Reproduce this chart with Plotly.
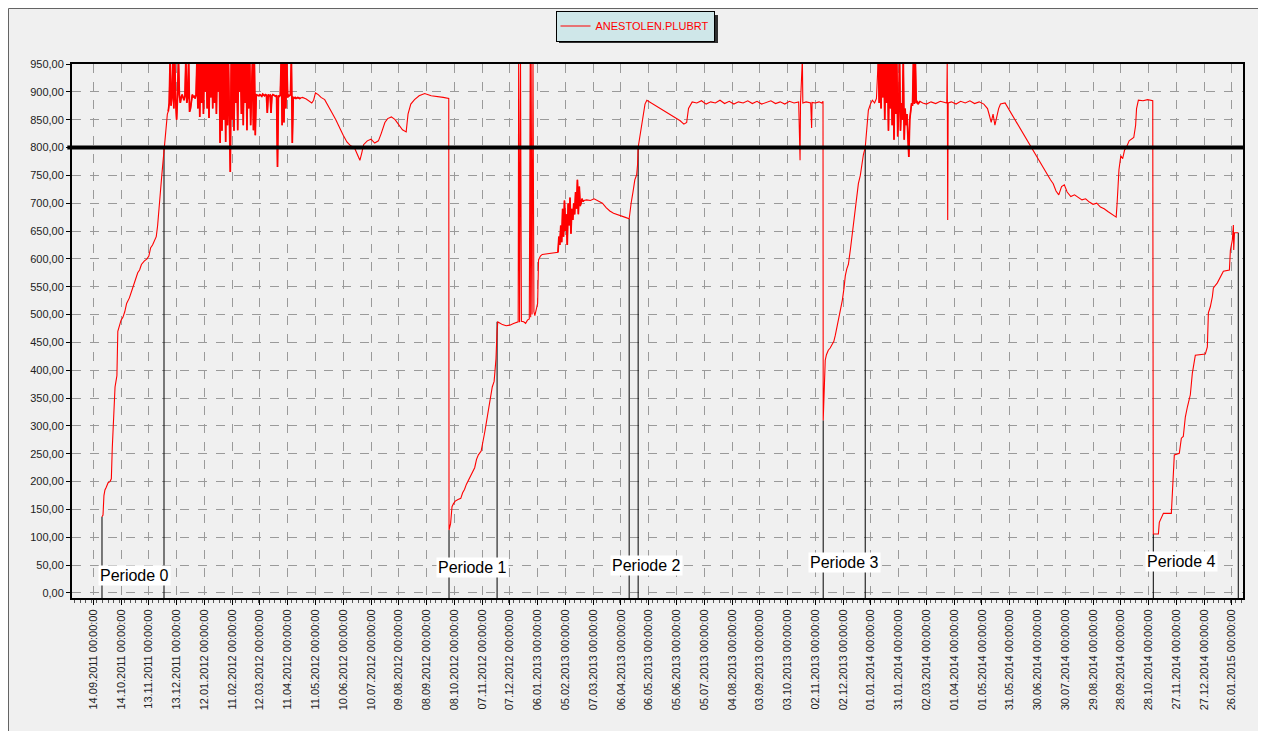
import pandas as pd
import plotly.graph_objects as go

# ---------------- data (days since 14.09.2011, values) ----------------
base_date = "2011-09-14"
series_name = "ANESTOLEN.PLUBRT"

rise0_days = [9.4, 10.5, 11.5, 12.6, 14, 16, 18, 19.5, 20.5, 21.3, 22.5, 23.5, 24.5, 25.5, 26.5, 28, 30, 32, 34, 36,
              39, 42, 45, 48, 50, 52, 55, 58, 60, 62, 64, 66, 68, 69.5, 71, 72.5, 74, 75.5, 76.4, 77.5, 78.6, 80]
rise0_vals = [137, 140, 175, 185, 190, 198, 200, 205, 260, 300, 340, 370, 380, 390, 470, 480, 490, 495, 505, 520,
              530, 545, 560, 575, 580, 590, 596, 600, 605, 620, 625, 632, 640, 660, 700, 720, 750, 780, 800, 820, 840, 860]

noise0_first_day = 81  # daily samples
noise0_vals = [865, 880, 960, 875, 890, 960, 870, 960, 885, 850,
               890, 960, 895, 880, 890, 895, 890, 885, 892,
               960, 880, 890, 960, 864, 870, 890,
               895, 890, 893, 888, 894, 960,
               870, 960, 855, 960, 880, 960, 860, 960, 900, 960, 870, 960, 853, 960, 890, 960, 870, 960, 880, 960, 860, 960, 900,
               960, 808, 960, 830, 960, 850, 960, 810, 960, 840, 960, 820, 756, 960, 850, 960, 830,
               960, 880, 960, 831, 960, 900, 960, 860, 960, 840, 960, 880, 960, 831,
               960, 870, 960, 840, 900, 960, 831, 960, 822, 895, 894,
               894, 893, 895, 894, 892, 896, 894, 893, 895, 894, 862, 895, 893, 894, 862, 893, 895, 894, 893, 892, 894, 765, 893,
               892, 894, 960, 840, 960, 845, 960, 870, 960, 890, 894, 893, 895,
               960, 808, 890, 889, 890, 888, 889, 890, 889, 888, 889]

decline0_days = [226, 230, 234, 236, 238, 240, 243, 246, 250, 254, 258, 262, 266, 270, 274, 278, 282, 285, 288, 290,
                 292, 296, 300, 304, 308, 311, 315, 318, 322, 326, 330, 334, 338, 340, 343, 347, 352, 358, 365, 372, 378, 384]
decline0_vals = [890, 887, 882, 880, 885, 898, 895, 890, 886, 875, 862, 850, 835, 822, 810, 803, 800, 790, 777, 790,
                 805, 812, 815, 808, 812, 825, 845, 852, 855, 850, 840, 832, 828, 860, 878, 886, 893, 897, 893, 892, 890, 888]

rise1_days = [384.3, 386, 387.5, 389, 391, 394, 397, 399, 401, 403, 406, 409, 412, 414, 416, 419, 421, 423, 425, 427,
              429, 431, 433, 435, 436.2, 437, 439, 442, 446, 450, 454, 457, 459]
rise1_vals = [113, 125, 155, 160, 165, 168, 170, 180, 186, 195, 205, 215, 225, 240, 248, 255, 270, 290, 310, 330,
              350, 370, 380, 420, 470, 487, 485, 482, 480, 481, 484, 485, 487]

spikes1_days = [459.5, 460.5, 461.5, 462.5, 465, 467, 469, 471, 472, 472.5, 473, 474, 475, 476, 477, 478, 479, 480,
                481, 483, 485, 490, 495, 500]
spikes1_vals = [960, 486, 960, 488, 487, 484, 490, 492, 960, 495, 960, 500, 960, 505, 498, 505, 515, 520,
                598, 605, 608, 609, 610, 611]

noise1_first_day = 502  # daily samples
noise1_vals = [612, 640, 625, 660, 630, 690, 640, 705, 650, 680, 625, 700, 660, 710, 645, 690, 670, 700, 680, 720,
               690, 742, 680, 730, 695, 700, 708, 703, 705]

rise2_days = [533, 537, 541, 546, 550, 554, 558, 562, 566, 570, 574, 578.9, 580, 581, 583, 585, 587, 588, 588.6, 590,
              592, 594, 596, 598, 601, 605, 610, 615, 620, 625, 630, 634, 638, 641, 643, 647, 652, 657, 662, 667,
              672, 677, 682, 687, 692, 697, 702, 707, 712, 717, 722, 727, 732, 737, 742, 747, 752, 757, 762, 763.5,
              764, 766, 766.5, 770, 775, 776, 776.5, 780, 784, 787, 788.3]
rise2_vals = [706, 705, 708, 703, 700, 692, 686, 682, 680, 678, 675, 672, 690, 700, 720, 742, 751, 770, 800, 815,
              835, 860, 878, 885, 882, 878, 872, 868, 862, 858, 852, 848, 842, 845, 870, 882, 880, 884, 878, 882,
              880, 885, 879, 883, 878, 882, 880, 884, 879, 883, 878, 881, 884, 879, 882, 878, 883, 880, 882, 777,
              881, 960, 880, 882, 880, 835, 881, 880, 882, 880, 883]

rise3_days = [788.5, 789.5, 790.7, 792, 794, 796, 798, 800, 801.6, 803, 804.9, 807, 809.2, 811, 812.4, 814, 815.7,
              817.8, 819.5, 821.1, 823, 824.3, 826.5, 828.6, 830, 831.9, 833.9, 835.5, 837.3, 839.5, 841.6, 844, 846]
rise3_vals = [310, 360, 418, 428, 436, 440, 445, 452, 463, 475, 490, 505, 526, 548, 570, 582, 590,
              616, 640, 670, 695, 715, 735, 750, 770, 787, 800, 835, 867, 878, 885, 880, 888]

noise3_first_day = 848  # daily samples
noise3_vals = [960, 880, 960, 870, 960, 890, 960, 850, 960, 880, 960, 830, 960, 870, 960, 840, 960, 814, 960, 860,
               960, 820, 870, 960, 830, 880, 850, 960, 814, 870, 840, 860, 820, 783, 850, 870, 880, 875, 960, 878,
               960, 880, 882, 878, 880, 883]

plateau3_days = [896, 900, 905, 910, 915, 920, 922, 922.5, 923, 923.5, 927, 932, 937, 942, 947, 952, 957, 962, 966,
                 968, 970, 972, 974, 976, 978, 980, 983]
plateau3_vals = [880, 878, 882, 879, 883, 880, 880, 960, 670, 880, 882, 878, 883, 880, 884, 879, 882, 878, 870,
                 858, 845, 860, 840, 855, 870, 878, 880]

descent_days = [985, 1034, 1037, 1040, 1043, 1046, 1049, 1052, 1056, 1060, 1064, 1068, 1072, 1076, 1080, 1084, 1088,
                1092, 1096, 1100, 1103, 1105, 1106, 1108, 1110, 1112, 1114, 1116, 1119, 1122, 1124, 1126, 1127, 1129,
                1134, 1139, 1144.5]
descent_vals = [880, 742, 735, 722, 715, 730, 733, 720, 712, 715, 710, 706, 708, 702, 698, 700, 693,
                690, 685, 680, 676, 675, 700, 760, 785, 780, 795, 800, 812, 815, 818, 840, 870, 885,
                884, 886, 884]

rise4_days = [1145.1, 1146.2, 1150.6, 1151.6, 1156, 1164.6, 1165.7, 1167.8, 1173.2, 1175.4, 1177.5, 1179.7, 1181.9,
              1185.1, 1187.3, 1190.5, 1201.3, 1203.5, 1204.6, 1206.7, 1208.9, 1210, 1214.3, 1220.8, 1227.3, 1228.4,
              1230.5, 1231.6, 1232, 1232.8, 1236.9]
rise4_vals = [106, 106, 106, 127, 143, 143, 172, 248, 251, 278, 281, 316, 334,
              356, 395, 427, 429, 442, 503, 514, 532, 548, 557, 578, 580, 616,
              634, 661, 616, 647, 647]

# period boundary markers (day, value reached)
marker_days = [9.4, 76.4, 384.3, 436.2, 578.9, 588.6, 788.5, 833.9, 1145.1, 1236.9]
marker_tops = [137, 800, 113, 487, 672, 800, 310, 800, 106, 647]

# period labels
period_names = ["Periode 0", "Periode 1", "Periode 2", "Periode 3", "Periode 4"]
period_label_days = [44, 410, 597.5, 811, 1176]
period_label_vals = [32, 45, 50, 54, 57]

threshold = 800
y_min, y_max = -9, 950
x_min_day, x_max_day = -23, 1242
tick_step_days = 30

# ---------------- build ----------------
base = pd.Timestamp(base_date)


def to_dates(days):
    return [base + pd.Timedelta(days=float(d)) for d in days]


def daily(first, vals):
    return [first + i for i in range(len(vals))]


all_days = (rise0_days + daily(noise0_first_day, noise0_vals) + decline0_days + rise1_days + spikes1_days
            + daily(noise1_first_day, noise1_vals) + rise2_days + rise3_days + daily(noise3_first_day, noise3_vals)
            + plateau3_days + descent_days + rise4_days)
all_vals = (rise0_vals + noise0_vals + decline0_vals + rise1_vals + spikes1_vals + noise1_vals + rise2_vals
            + rise3_vals + noise3_vals + plateau3_vals + descent_vals + rise4_vals)

fig = go.Figure()

# page has an 8px body margin -> figure is offset by 8px in the window
OFF = 8
W, H = 1266 - OFF, 731 - OFF
ml, mr, mt, mb = 72 - OFF, 23, 64 - OFF, 133
pw, ph = W - ml - mr, H - mt - mb


def wx(p):  # window pixel -> paper x
    return (p - OFF - ml) / pw


def wy(p):  # window pixel -> paper y
    return 1 - (p - OFF - mt) / ph


# outer panel frame
fig.add_shape(type="rect", xref="paper", yref="paper", x0=wx(8.5), x1=wx(1300), y0=wy(760), y1=wy(8.5),
              fillcolor="#f0f0f0", line=dict(color="#646464", width=1), layer="below")

# legend shadow
fig.add_shape(type="rect", xref="paper", yref="paper", x0=wx(559), x1=wx(718), y0=wy(43), y1=wy(15),
              fillcolor="#303030", line=dict(width=0), layer="above")

# marker lines
mx, my = [], []
for d, t in zip(marker_days, marker_tops):
    dt = to_dates([d])[0]
    mx += [dt, dt, None]
    my += [y_min, t, None]
fig.add_trace(go.Scatter(x=mx, y=my, mode="lines", line=dict(color="#000000", width=1),
                         showlegend=False, hoverinfo="skip"))

fig.add_trace(go.Scatter(x=to_dates(all_days), y=all_vals, mode="lines", name=series_name,
                         legendgroup="s", line=dict(color="#ff0000", width=1.1)))

# dense noisy stretches are drawn a little heavier (same data)
for first, vals in [(noise0_first_day, noise0_vals), (noise3_first_day, noise3_vals), (noise1_first_day, noise1_vals)]:
    fig.add_trace(go.Scatter(x=to_dates(daily(first, vals)), y=vals, mode="lines", legendgroup="s",
                             showlegend=False, hoverinfo="skip", line=dict(color="#ff0000", width=1.7)))

# threshold line
fig.add_shape(type="line", xref="paper", yref="y", x0=-0.004, x1=1, y0=threshold, y1=threshold,
              line=dict(color="#000000", width=4))

for name, d, v in zip(period_names, period_label_days, period_label_vals):
    fig.add_annotation(x=to_dates([d])[0], y=v, text=name, showarrow=False,
                       font=dict(size=16, color="#000000", family="Liberation Sans, Arial, sans-serif"),
                       bgcolor="#ffffff", borderpad=1)

fig.update_layout(
    width=W, height=H,
    margin=dict(l=ml, r=mr, t=mt, b=mb, autoexpand=False),
    paper_bgcolor="#ffffff",
    plot_bgcolor="rgba(0,0,0,0)",
    separators=",.",
    font=dict(family="Liberation Sans, Arial, sans-serif", size=11, color="#222222"),
    showlegend=True,
    legend=dict(x=wx(635), y=wy(26), xanchor="center", yanchor="middle",
                bgcolor="#cfe7e9", bordercolor="#000000", borderwidth=1,
                font=dict(size=11, color="#ff0000"), orientation="h"),
    xaxis=dict(
        type="date",
        range=[base + pd.Timedelta(days=x_min_day), base + pd.Timedelta(days=x_max_day)],
        tickmode="linear", tick0=base, dtick=tick_step_days * 86400000,
        tickformat="%d.%m.%Y 00:00:00", tickangle=-90,
        ticks="outside", ticklen=5, tickcolor="#000000",
        showgrid=True, gridcolor="#9a9a9a", griddash="dash", gridwidth=1,
        showline=True, linecolor="#000000", linewidth=2, mirror=True,
        zeroline=False,
        minor=dict(ticks="outside", ticklen=3, tickcolor="#555555", dtick=6 * 86400000, showgrid=False),
        tickfont=dict(size=11, color="#222222"),
    ),
    yaxis=dict(
        range=[y_min, y_max], tickmode="linear", tick0=0, dtick=50, tickformat=".2f",
        ticks="outside", ticklen=4, tickcolor="#000000",
        showgrid=True, gridcolor="#9a9a9a", griddash="dash", gridwidth=1,
        showline=True, linecolor="#000000", linewidth=2, mirror=True,
        zeroline=False,
        tickfont=dict(size=11, color="#222222"),
    ),
)

fig.write_html("out.html")
